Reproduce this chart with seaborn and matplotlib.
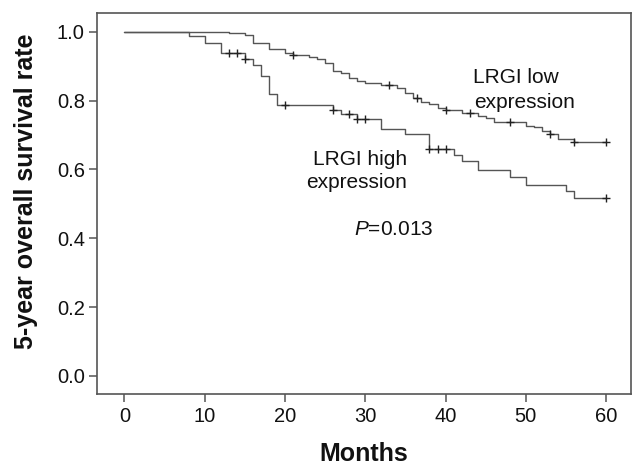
import numpy as np
import pandas as pd
import matplotlib
matplotlib.use("Agg")
import matplotlib.pyplot as plt
import seaborn as sns

# ---- data ----
low_times = [0, 13, 15, 16, 18, 20, 21, 23, 24, 25, 26, 27, 28, 29, 30, 32, 34, 35,
             36, 37, 38, 39, 40, 42, 44, 45, 46, 50, 51, 52, 53, 54, 56, 60]
low_surv = [1.0, 0.995, 0.990, 0.966, 0.950, 0.937, 0.931, 0.926, 0.920, 0.908, 0.886,
            0.879, 0.865, 0.857, 0.852, 0.844, 0.836, 0.821, 0.807, 0.797, 0.789, 0.779,
            0.773, 0.765, 0.756, 0.748, 0.737, 0.727, 0.722, 0.712, 0.703, 0.688, 0.679, 0.679]
low_censor = [21, 33, 36.4, 40, 43, 48, 53, 56, 60]

high_times = [0, 8, 10, 12, 15, 16, 17, 18, 19, 26, 27, 29, 32, 35, 38, 41, 42, 44,
              48, 50, 55, 56, 60]
high_surv = [1.0, 0.988, 0.968, 0.937, 0.922, 0.903, 0.872, 0.819, 0.787, 0.773, 0.760,
             0.746, 0.716, 0.702, 0.659, 0.642, 0.625, 0.598, 0.577, 0.555, 0.538, 0.516, 0.516]
high_censor = [13, 14, 15, 20, 26, 28, 29, 30, 38, 39, 40, 60]

x_ticks = [0, 10, 20, 30, 40, 50, 60]
y_ticks = [0.0, 0.2, 0.4, 0.6, 0.8, 1.0]

x_label = "Months"
y_label = "5-year overall survival rate"
p_text = "$P$=0.013"


def level_at(times, surv, t):
    idx = np.searchsorted(np.asarray(times, dtype=float), t, side="right") - 1
    return np.asarray(surv)[idx]


sns.set_theme(style="white")
plt.rcParams["font.family"] = ["Liberation Sans", "DejaVu Sans"]
plt.rcParams["mathtext.fontset"] = "custom"
plt.rcParams["mathtext.it"] = "Liberation Sans:italic"
plt.rcParams["mathtext.rm"] = "Liberation Sans"

fig = plt.figure(figsize=(6.34, 4.66), dpi=100)
ax = fig.add_axes([0.1535, 0.154, 0.8413, 0.8187])

line_color = "#555555"
for times, surv, cens in [(low_times, low_surv, low_censor),
                          (high_times, high_surv, high_censor)]:
    df = pd.DataFrame({"t": times, "s": surv})
    sns.lineplot(data=df, x="t", y="s", drawstyle="steps-post", estimator=None,
                 color=line_color, linewidth=1.0, ax=ax)
    cdf = pd.DataFrame({"t": cens, "s": level_at(times, surv, np.asarray(cens))})
    sns.scatterplot(data=cdf, x="t", y="s", marker="+", s=28, color="#222222",
                    linewidth=1.0, ax=ax, zorder=3)

ax.set_xlim(-3.37, 63.06)
ax.set_ylim(-0.053, 1.055)
ax.set_xticks(x_ticks)
ax.set_yticks(y_ticks)
ax.set_xticklabels([str(v) for v in x_ticks])
ax.set_yticklabels([f"{v:.1f}" for v in y_ticks])
ax.tick_params(axis="both", which="major", labelsize=14.5, length=6, width=1.1,
               color="#555555", direction="out", bottom=True, left=True, pad=3,
               labelcolor="#111111")

for sp in ax.spines.values():
    sp.set_color("#555555")
    sp.set_linewidth(1.2)

ax.set_xlabel(x_label, fontsize=18, fontweight="bold", color="#111111")
ax.set_ylabel(y_label, fontsize=18, fontweight="bold", color="#111111",
              ha="center", va="center")
ax.yaxis.set_label_coords((26 - 97.3) / 533.4, (394.3 - 191) / 381.6)
ax.xaxis.set_label_coords(0.5, (394.3 - 461) / 381.6)
ax.xaxis.label.set_va("baseline")

txt_kw = dict(fontsize=15, color="#111111", va="baseline")
ax.text(43.46, 0.850, "LRGI low", ha="left", **txt_kw)
ax.text(43.55, 0.7775, "expression", ha="left", **txt_kw)
ax.text(35.24, 0.6128, "LRGI high", ha="right", **txt_kw)
ax.text(35.24, 0.5452, "expression", ha="right", **txt_kw)
ax.text(28.64, 0.4095, p_text, ha="left", **txt_kw)

fig.savefig("out.png", dpi=100)
